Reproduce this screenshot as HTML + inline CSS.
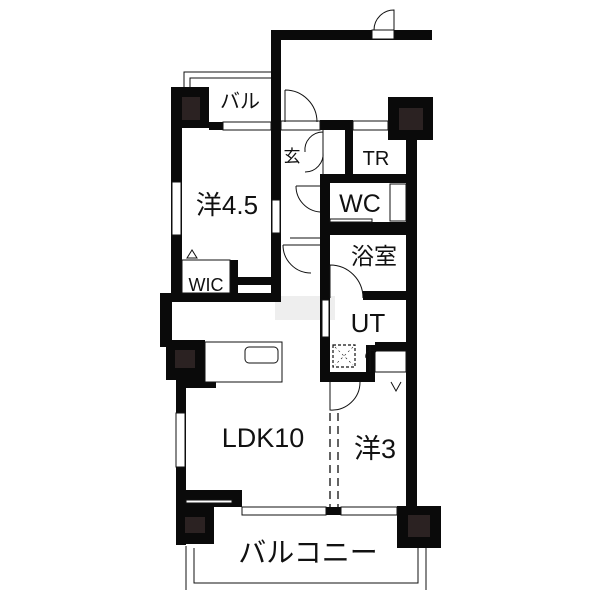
<!DOCTYPE html>
<html><head><meta charset="utf-8"><style>
html,body{margin:0;padding:0;background:#fff;width:600px;height:600px;overflow:hidden}
text{font-family:"Liberation Sans","Noto Sans CJK JP",sans-serif;fill:#111}
</style></head><body>
<svg width="600" height="600" viewBox="0 0 600 600" xmlns="http://www.w3.org/2000/svg">
<rect x="275" y="296" width="60" height="24" fill="#eeeeee"/>
<g fill="#0a0a0a">
<!-- entrance top wall -->
<rect x="271" y="30" width="161" height="10"/>
<rect x="271" y="30" width="10" height="272"/>
<!-- left bedroom -->
<rect x="171" y="87" width="38" height="41"/>
<rect x="171" y="87" width="11" height="215"/>
<rect x="209" y="122" width="14" height="8"/>
<rect x="230" y="260" width="8" height="42"/>
<rect x="238" y="277" width="33" height="8"/>
<rect x="160" y="293" width="121" height="9"/>
<rect x="160" y="293" width="12" height="54"/>
<!-- kitchen pillar -->
<rect x="166" y="340" width="39" height="40"/>
<rect x="205" y="370" width="40" height="8"/>
<rect x="176" y="378" width="40" height="10"/>
<rect x="176" y="380" width="10" height="165"/>
<!-- bottom left -->
<rect x="186" y="490" width="56" height="17"/>
<rect x="176" y="506" width="38" height="38"/>
<rect x="326" y="507" width="15" height="8"/>
<rect x="397" y="506" width="44" height="42"/>
<!-- right -->
<rect x="388" y="97" width="45" height="43"/>
<rect x="406" y="130" width="11" height="376"/>
<rect x="320" y="120" width="33" height="10"/>
<rect x="345" y="120" width="8" height="55"/>
<rect x="320" y="174" width="86" height="9"/>
<rect x="320" y="174" width="10" height="208"/>
<rect x="320" y="222" width="86" height="13"/>
<rect x="363" y="291" width="43" height="9"/>
<rect x="375" y="342" width="31" height="9"/>
<rect x="320" y="372" width="55" height="10"/>
<rect x="366" y="345" width="9" height="37"/>
</g>
<g fill="#2b2222">
<rect x="182" y="97" width="18" height="23"/>
<rect x="399" y="108" width="24" height="22"/>
<rect x="175" y="350" width="20" height="18"/>
<rect x="185" y="517" width="20" height="16"/>
<rect x="408" y="515" width="22" height="22"/>
</g>
<g fill="#fff" stroke="#111" stroke-width="1">
<rect x="372" y="30" width="22" height="9"/>
<rect x="223" y="122" width="48" height="8"/>
<rect x="281" y="121" width="39" height="9"/>
<rect x="353" y="121" width="35" height="9"/>
<rect x="172" y="182" width="9" height="53"/>
<rect x="272" y="200" width="8" height="33"/>
<rect x="176" y="413" width="9" height="54"/>
<rect x="322" y="300" width="7" height="37"/>
<rect x="242" y="507" width="84" height="8"/>
<rect x="341" y="507" width="56" height="8"/>
<rect x="186" y="500" width="46" height="3"/>
<rect x="390" y="184" width="16" height="37"/>
<rect x="330" y="219" width="42" height="3"/>
<rect x="205" y="342" width="77" height="40"/>
<rect x="245" y="347" width="33" height="16" rx="4"/>
<rect x="182" y="260" width="48" height="33"/>
<rect x="375" y="351" width="31" height="21"/>
</g>
<g fill="none" stroke="#111" stroke-width="1">
<path d="M184 87 V72 H271 M190 87 V78 H271"/>
<path d="M186 546 V590 M426 548 V590 M194 548 V583 H418 V548"/>
<path d="M394 30 V10 A20 20 0 0 0 374 30"/>
<path d="M285 90 V122 M285 90 A32 32 0 0 1 317 122"/>
<path d="M323 132 A18 18 0 0 0 305 152 M323 152 A18 18 0 0 1 305 172 M323 130 V175"/>
<path d="M296 186 H320 M296 186 A26 26 0 0 0 320 212"/>
<path d="M283 245 H320 M283 245 A28 28 0 0 0 311 273 M290 238 H320"/>
<path d="M330 265 A33 33 0 0 1 363 298 M330 265 V298"/>
<path d="M330 382 V410 A28 28 0 0 0 360 382"/>
<path d="M370 345 V372 M366 358 A6 6 0 0 1 376 352"/>
<path d="M192 250 L187 258 H197 Z"/>
<path d="M391 382 L396 391 L401 382"/>
</g>
<rect x="333" y="345" width="22" height="22" fill="none" stroke="#111" stroke-width="1.2" stroke-dasharray="3,2"/>
<path d="M335 347 L353 365 M353 347 L335 365" stroke="#111" stroke-width="0.6" stroke-dasharray="2,3"/>
<g stroke="#111" stroke-width="1.3" stroke-dasharray="8,5">
<path d="M330 413 V507 M338 413 V507"/>
</g>
<text x="240" y="108" font-size="20" text-anchor="middle">バル</text>
<text x="227" y="214" font-size="26" text-anchor="middle">洋4.5</text>
<text x="206" y="291" font-size="18" text-anchor="middle">WIC</text>
<text x="292" y="162" font-size="17" text-anchor="middle">玄</text>
<text x="376" y="165" font-size="20" text-anchor="middle">TR</text>
<text x="360" y="212" font-size="25" text-anchor="middle">WC</text>
<text x="374" y="264" font-size="23" text-anchor="middle">浴室</text>
<text x="368" y="332" font-size="26" text-anchor="middle">UT</text>
<text x="263" y="447" font-size="27" text-anchor="middle">LDK10</text>
<text x="375" y="458" font-size="27" text-anchor="middle">洋3</text>
<text x="308" y="562" font-size="28" text-anchor="middle">バルコニー</text>
</svg>
</body></html>
